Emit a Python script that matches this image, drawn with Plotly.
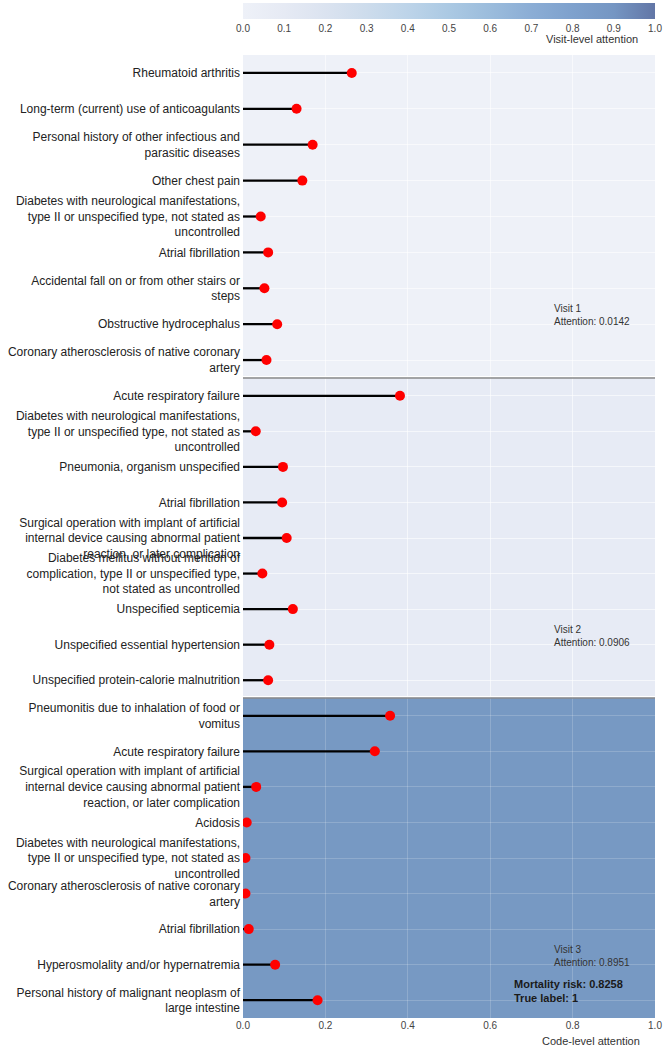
import plotly.graph_objects as go

# ---------------- data ----------------
visit1_codes = [
    "Rheumatoid arthritis",
    "Long-term (current) use of anticoagulants",
    "Personal history of other infectious and<br>parasitic diseases",
    "Other chest pain",
    "Diabetes with neurological manifestations,<br>type II or unspecified type, not stated as<br>uncontrolled",
    "Atrial fibrillation",
    "Accidental fall on or from other stairs or<br>steps",
    "Obstructive hydrocephalus",
    "Coronary atherosclerosis of native coronary<br>artery",
]
visit1_attn = [0.264, 0.130, 0.169, 0.144, 0.043, 0.061, 0.052, 0.083, 0.057]

visit2_codes = [
    "Acute respiratory failure",
    "Diabetes with neurological manifestations,<br>type II or unspecified type, not stated as<br>uncontrolled",
    "Pneumonia, organism unspecified",
    "Atrial fibrillation",
    "Surgical operation with implant of artificial<br>internal device causing abnormal patient<br>reaction, or later complication",
    "Diabetes mellitus without mention of<br>complication, type II or unspecified type,<br>not stated as uncontrolled",
    "Unspecified septicemia",
    "Unspecified essential hypertension",
    "Unspecified protein-calorie malnutrition",
]
visit2_attn = [0.381, 0.031, 0.097, 0.095, 0.106, 0.047, 0.121, 0.064, 0.061]

visit3_codes = [
    "Pneumonitis due to inhalation of food or<br>vomitus",
    "Acute respiratory failure",
    "Surgical operation with implant of artificial<br>internal device causing abnormal patient<br>reaction, or later complication",
    "Acidosis",
    "Diabetes with neurological manifestations,<br>type II or unspecified type, not stated as<br>uncontrolled",
    "Coronary atherosclerosis of native coronary<br>artery",
    "Atrial fibrillation",
    "Hyperosmolality and/or hypernatremia",
    "Personal history of malignant neoplasm of<br>large intestine",
]
visit3_attn = [0.357, 0.320, 0.032, 0.009, 0.006, 0.006, 0.014, 0.078, 0.181]

visit_names = ["Visit 1", "Visit 2", "Visit 3"]
visit_attention = [0.0142, 0.0906, 0.8951]
mortality_risk = 0.8258
true_label = 1

x_ticks = [0.0, 0.2, 0.4, 0.6, 0.8, 1.0]
cbar_ticks = [0.0, 0.1, 0.2, 0.3, 0.4, 0.5, 0.6, 0.7, 0.8, 0.9, 1.0]

# ---------------- style ----------------
W, H = 667, 1050
colorscale = [
    [0.0, "#eef1f8"], [0.1, "#e6eaf4"], [0.2, "#dbe3f0"], [0.3, "#cddcec"],
    [0.4, "#bdd4e9"], [0.5, "#abc9e3"], [0.6, "#9bbcdc"], [0.7, "#8badd5"],
    [0.8, "#7ea1cd"], [0.9, "#7596c3"], [1.0, "#6276a6"],
]
panel_bg = ["#eef1f8", "#e7ebf5", "#7799c3"]
panel_grid = ["rgba(255,255,255,0.6)", "rgba(255,255,255,0.6)", "rgba(255,255,255,0.18)"]
panel_px = [(55, 378), (378, 698), (698, 1018)]
plot_x_px = (243, 655)
label_color = "#222222"
FONT = "Liberation Sans, Arial, sans-serif"


def py(p):
    return 1 - p / H


def pxx(p):
    return p / W


panels = [(visit1_codes, visit1_attn), (visit2_codes, visit2_attn), (visit3_codes, visit3_attn)]

fig = go.Figure()
layout = dict(
    width=W, height=H, margin=dict(l=0, r=0, t=0, b=0, autoexpand=False),
    paper_bgcolor="white", plot_bgcolor="rgba(0,0,0,0)",
    showlegend=False, font=dict(family=FONT, color=label_color),
)
shapes = []
annotations = []

for i, (codes, vals) in enumerate(panels):
    n = i + 1
    xa = "x" if n == 1 else f"x{n}"
    ya = "y" if n == 1 else f"y{n}"
    idx = list(range(len(codes)))
    lx, ly = [], []
    for k, v in zip(idx, vals):
        lx += [0, v, None]
        ly += [k, k, None]
    fig.add_trace(go.Scatter(x=lx, y=ly, mode="lines", xaxis=xa, yaxis=ya,
                             line=dict(color="black", width=2.3), hoverinfo="skip"))
    fig.add_trace(go.Scatter(x=vals, y=idx, mode="markers", xaxis=xa, yaxis=ya,
                             marker=dict(color="#ff0000", size=10, line=dict(width=0)),
                             text=[c.replace("<br>", " ") for c in codes],
                             hovertemplate="%{text}: %{x:.4f}<extra></extra>"))
    top, bot = panel_px[i]
    layout["xaxis" if n == 1 else f"xaxis{n}"] = dict(
        domain=[pxx(plot_x_px[0]), pxx(plot_x_px[1])], range=[0, 1],
        anchor=ya, tickvals=x_ticks, ticktext=[f"{t:.1f}" for t in x_ticks],
        showticklabels=(n == 3), showgrid=True, gridcolor=panel_grid[i],
        gridwidth=1, zeroline=False, showline=False, ticks="", automargin=False,
        tickfont=dict(size=10, color="#444444"), fixedrange=True,
        **({} if n == 1 else {"matches": "x"}),
    )
    layout["yaxis" if n == 1 else f"yaxis{n}"] = dict(
        domain=[py(bot), py(top)], range=[len(codes) - 0.5, -0.5], anchor=xa,
        tickmode="array", tickvals=idx, ticktext=codes, showgrid=True,
        gridcolor=panel_grid[i], gridwidth=1, zeroline=False, automargin=False,
        showline=False, ticks="", ticklabelstandoff=2,
        tickfont=dict(size=12, color=label_color), fixedrange=True,
    )
    shapes.append(dict(type="rect", xref=f"{xa} domain", yref=f"{ya} domain",
                       x0=0, x1=1, y0=0, y1=1, fillcolor=panel_bg[i],
                       line=dict(width=0), layer="below"))
    annotations.append(dict(
        x=0.75, xref=xa, y=0.195, yref=f"{ya} domain",
        text=f"{visit_names[i]}<br>Attention: {visit_attention[i]:.4f}",
        showarrow=False, xanchor="left", yanchor="middle", align="left",
        font=dict(size=10, color="#333333"),
    ))
    if n < 3:
        shapes.append(dict(type="line", xref="paper", yref="paper",
                           x0=pxx(plot_x_px[0]), x1=pxx(plot_x_px[1]),
                           y0=py(bot - 1.5), y1=py(bot - 1.5),
                           line=dict(color="white", width=1.2), layer="above"))
        shapes.append(dict(type="line", xref="paper", yref="paper",
                           x0=pxx(plot_x_px[0]), x1=pxx(plot_x_px[1]),
                           y0=py(bot), y1=py(bot),
                           line=dict(color="#8a8a8a", width=1.5), layer="above"))

# colorbar for visit-level attention
fig.add_trace(go.Scatter(
    x=[None] * len(visit_attention), y=[None] * len(visit_attention),
    mode="markers", xaxis="x3", yaxis="y3", hoverinfo="skip",
    marker=dict(color=visit_attention, colorscale=colorscale, cmin=0, cmax=1,
                showscale=True, size=1,
                colorbar=dict(orientation="h", x=pxx((plot_x_px[0] + plot_x_px[1]) / 2),
                              xanchor="center", y=py(2.7), yanchor="top",
                              len=plot_x_px[1] - plot_x_px[0], lenmode="pixels",
                              thickness=16, thicknessmode="pixels",
                              xpad=0, ypad=0, outlinewidth=0, ticks="",
                              tickvals=cbar_ticks,
                              ticktext=[f"{t:.1f}" for t in cbar_ticks],
                              tickfont=dict(size=10, color="#444444"))),
))

annotations.append(dict(x=pxx(640), y=py(39), xref="paper", yref="paper",
                        text="Visit-level attention", showarrow=False,
                        xanchor="right", yanchor="middle",
                        font=dict(size=11, color="#333333")))
annotations.append(dict(x=pxx(642), y=py(1041), xref="paper", yref="paper",
                        text="Code-level attention", showarrow=False,
                        xanchor="right", yanchor="middle",
                        font=dict(size=11, color="#333333")))
annotations.append(dict(x=pxx(512), y=py(991), xref="paper", yref="paper",
                        text=f"<b>Mortality risk: {mortality_risk:.4f}<br>True label: {true_label}</b>",
                        showarrow=False, xanchor="left", yanchor="middle", align="left",
                        font=dict(size=11, color="#1a1a1a")))

layout["shapes"] = shapes
layout["annotations"] = annotations
fig.update_layout(**layout)
fig.write_html("out.html", config={"displayModeBar": False},
               post_script="document.body.style.margin='0px';document.body.style.overflow='hidden';")
